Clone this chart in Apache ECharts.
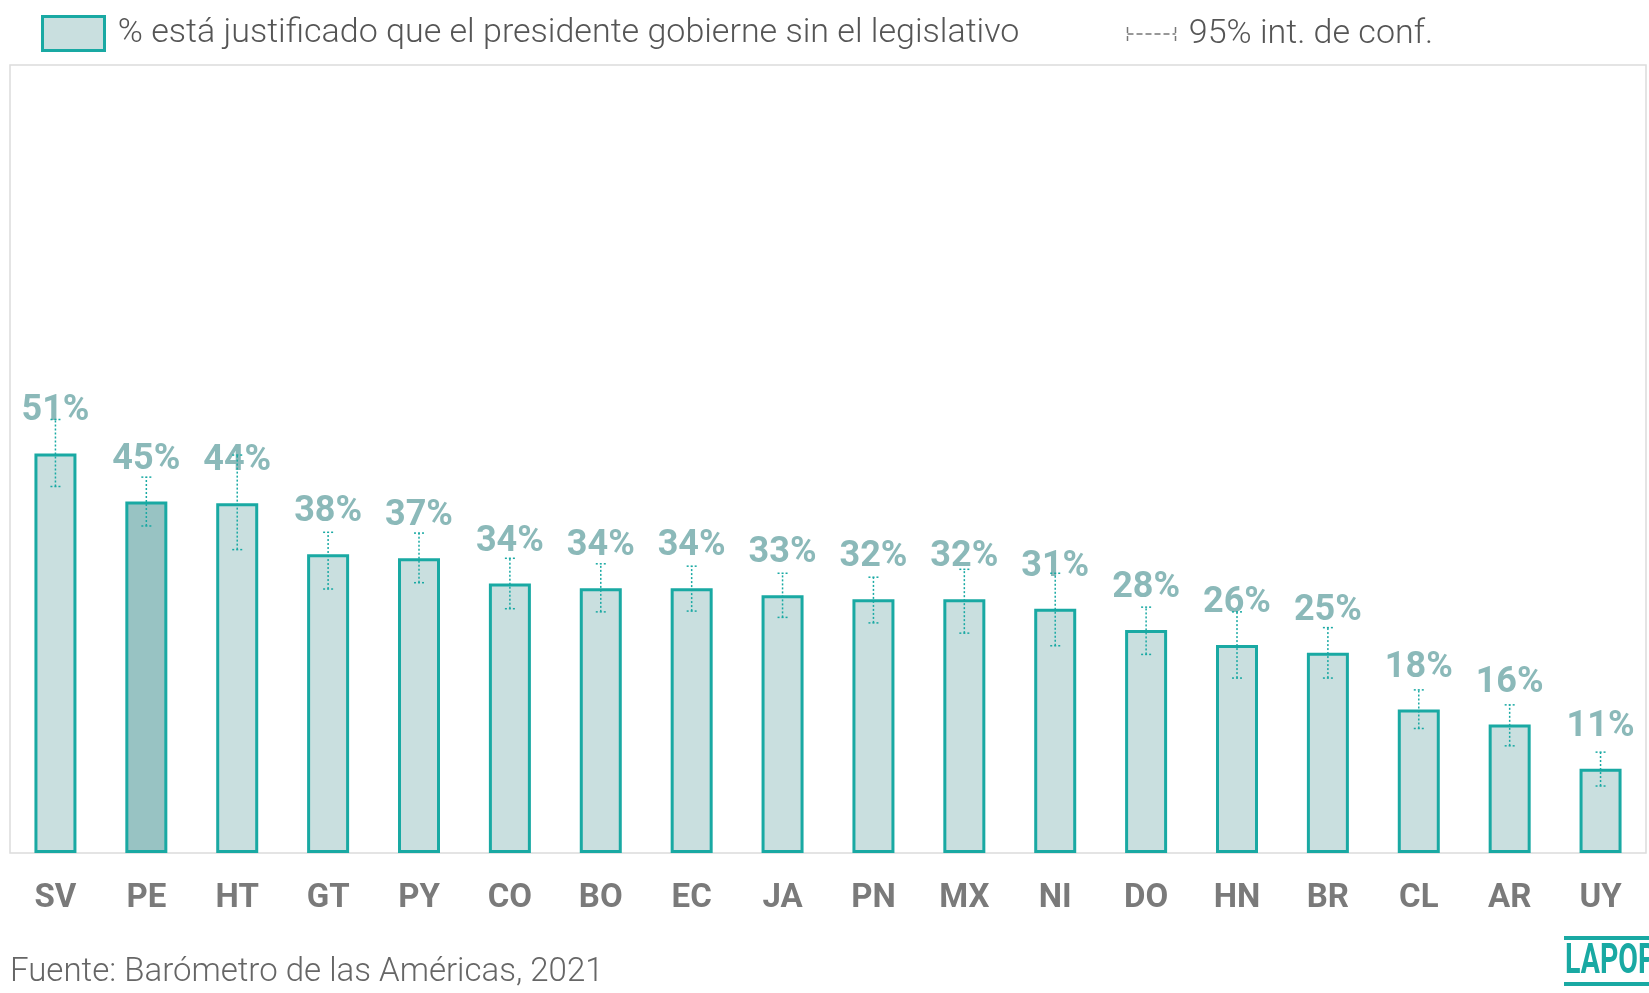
<!DOCTYPE html>
<html>
<head>
<meta charset="utf-8">
<script src="https://cdn.jsdelivr.net/npm/echarts@6/dist/echarts.min.js"></script>
<style>
  html, body { margin: 0; padding: 0; background: #fff; }
  #chart { width: 1649px; height: 993px; }
</style>
</head>
<body>
<div id="chart"></div>
<script>
// paises y porcentajes
var countries = ['SV', 'PE', 'HT', 'GT', 'PY', 'CO', 'BO', 'EC', 'JA', 'PN', 'MX', 'NI', 'DO', 'HN', 'BR', 'CL', 'AR', 'UY'];
var values = [50.7, 44.6, 44.4, 37.9, 37.4, 34.2, 33.6, 33.6, 32.7, 32.2, 32.2, 31.0, 28.3, 26.4, 25.4, 18.2, 16.3, 10.7];
// intervalo de confianza 95%
var ciLow = [46.5, 41.5, 38.5, 33.5, 34.3, 31.0, 30.6, 30.7, 29.9, 29.2, 27.9, 26.3, 25.2, 22.2, 22.2, 15.8, 13.6, 8.5];
var ciHigh = [55.0, 47.7, 50.5, 40.7, 40.6, 37.4, 36.7, 36.4, 35.5, 35.0, 36.0, 35.5, 31.2, 30.6, 28.6, 20.7, 18.8, 12.8];
var highlight = 'PE';

var teal = '#19a9a3',
	fillLight = '#c9dfdf',
	fillDark = '#98c3c3',
	labelColor = '#8bb9b9';

var barData = values.map(function(v, i) {
	return {
		value: v,
		itemStyle: { color: countries[i] == highlight ? fillDark : fillLight }
	};
});
var ciData = countries.map(function(c, i) {
	return [i, ciLow[i], ciHigh[i]];
});

var myChart = echarts.init(document.getElementById('chart'));
var option = {
	animation: false,
	textStyle: { fontFamily: 'Roboto' },
	legend: [{
		left: 36,
		top: 10,
		itemWidth: 62,
		itemHeight: 34,
		selectedMode: false,
		data: [{
			name: '% está justificado que el presidente gobierne sin el legislativo',
			icon: 'rect',
			itemStyle: { color: fillLight, borderColor: teal, borderWidth: 3 }
		}],
		formatter: function(n) { return ' ' + n; },
		textStyle: { fontSize: 34, fontWeight: 300, color: '#555' }
	}, {
		left: 1120,
		top: 12,
		itemWidth: 48,
		itemHeight: 14,
		selectedMode: false,
		data: [{
			name: '95% int. de conf.',
			icon: 'path://M0,0 L0,14 M0,7 L48,7 M48,0 L48,14',
			itemStyle: { color: 'none', borderColor: '#777', borderWidth: 1.5, borderType: 'dashed' }
		}],
		formatter: function(n) { return ' ' + n; },
		textStyle: { fontSize: 34, fontWeight: 300, color: '#555' }
	}],
	grid: {
		left: 10,
		right: 3,
		top: 65,
		bottom: 140,
		show: true,
		borderColor: '#dcdcdc',
		borderWidth: 1.5
	},
	xAxis: {
		type: 'category',
		data: countries,
		axisLine: { show: false },
		axisTick: { show: false },
		axisLabel: {
			margin: 29,
			fontSize: 33,
			fontWeight: 'bold',
			color: '#7a7a7a'
		}
	},
	yAxis: {
		type: 'value',
		min: 0,
		max: 100,
		show: false
	},
	series: [{
		name: '% está justificado que el presidente gobierne sin el legislativo',
		type: 'bar',
		barWidth: 42,
		data: barData,
		itemStyle: { color: fillLight, borderColor: teal, borderWidth: 3 },
		label: {
			show: true,
			position: 'top',
			distance: 24,
			fontSize: 36,
			fontWeight: 'bold',
			color: labelColor,
			formatter: function(p) { return Math.round(p.value) + '%'; }
		},
		z: 2
	}, {
		name: '95% int. de conf.',
		type: 'custom',
		data: ciData,
		itemStyle: { color: teal },
		z: 3,
		renderItem: function(params, api) {
			var x = api.value(0);
			var lo = api.coord([x, api.value(1)]);
			var hi = api.coord([x, api.value(2)]);
			var cap = 5;
			var st = { stroke: teal, lineWidth: 1.5, lineDash: [2, 2] };
			return {
				type: 'group',
				children: [
					{ type: 'line', shape: { x1: lo[0], y1: lo[1], x2: hi[0], y2: hi[1] }, style: st },
					{ type: 'line', shape: { x1: lo[0] - cap, y1: lo[1], x2: lo[0] + cap, y2: lo[1] }, style: st },
					{ type: 'line', shape: { x1: hi[0] - cap, y1: hi[1], x2: hi[0] + cap, y2: hi[1] }, style: st }
				]
			};
		}
	}],
	graphic: [{
		type: 'text',
		left: 10,
		top: 956,
		style: { text: 'Fuente: Barómetro de las Américas, 2021', fontFamily: 'Roboto', fontSize: 33, fontWeight: 300, fill: '#666' }
	}, {
		type: 'rect',
		shape: { x: 1564, y: 936, width: 90, height: 4 },
		style: { fill: teal }
	}, {
		type: 'text',
		x: 1565,
		y: 941,
		scaleX: 0.68,
		style: { text: 'LAPOP', fontFamily: 'Roboto', fontSize: 42, fontWeight: 'bold', fill: teal }
	}, {
		type: 'rect',
		shape: { x: 1564, y: 982, width: 90, height: 4 },
		style: { fill: teal }
	}]
};
myChart.setOption(option);
</script>
</body>
</html>
